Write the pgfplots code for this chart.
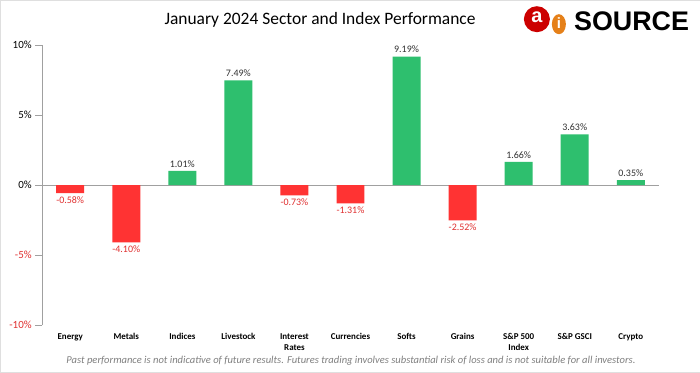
\documentclass[border=0pt]{standalone}
\usepackage{pgfplots}
\pgfplotsset{compat=1.18}
\usepackage{fontspec}
\setmainfont{Carlito}
\newfontfamily\logofont{Liberation Sans}
\definecolor{barGreen}{HTML}{2EBF6E}
\definecolor{barRed}{HTML}{FF3333}
\definecolor{labRed}{HTML}{E03030}
\definecolor{axisGray}{HTML}{A0A0A0}
\begin{document}
\begin{tikzpicture}
\path[draw=gray!25, fill=white] (0bp,0bp) rectangle (700bp,372bp);
\node[font=\fontsize{17.5}{20}\selectfont] at (320bp,352bp) {January 2024 Sector and Index Performance};
\node[font=\fontsize{10.6}{12}\selectfont\itshape, text=gray] at (351bp,11bp) {Past performance is not indicative of future results. Futures trading involves substantial risk of loss and is not suitable for all investors.};
% logo
\fill[red!80!black] (537bp,353bp) circle (13bp);
\node[font=\logofont\bfseries\fontsize{20}{20}\selectfont, text=white] at (537bp,355bp) {a};
\fill[orange!60!brown] (559bp,348bp) ellipse (7bp and 10bp);
\node[font=\logofont\bfseries\fontsize{15}{15}\selectfont, text=white] at (559bp,349bp) {i};
\node[font=\logofont\bfseries\fontsize{27}{27}\selectfont, anchor=west, inner sep=0pt] at (574bp,351bp) {SOURCE};
\begin{axis}[at={(42bp,47bp)}, anchor=south west, scale only axis,
  width=617bp, height=280bp,
  xmin=-0.5, xmax=10.5, ymin=-10, ymax=10,
  axis x line*=bottom, axis y line*=left,
  x axis line style={draw=none}, y axis line style={draw=axisGray},
  xtick={0,...,10}, xtick style={draw=none},
  xticklabels={Energy,Metals,Indices,Livestock,{Interest\\Rates},Currencies,Softs,Grains,{S\&P 500\\Index},S\&P GSCI,Crypto},
  xticklabel style={font=\fontsize{9}{11}\selectfont\bfseries, align=center, yshift=2bp},
  ytick={-10,-5,0,5,10},
  yticklabels={\textcolor{labRed}{-10\%},\textcolor{labRed}{-5\%},0\%,5\%,10\%},
  yticklabel style={font=\fontsize{11}{13}\selectfont},
  tick align=outside, major tick length=7bp, ytick style={draw=axisGray},
  ybar, bar width=28bp, bar shift=0pt,
  /pgf/number format/assume math mode=true,
  nodes near coords={\pgfmathprintnumber[fixed,precision=2,fixed zerofill,assume math mode=true]{\pgfplotspointmeta}\%},
  clip=false,
]
\draw[axisGray] (axis cs:-0.5,0) -- (axis cs:10.5,0);
\addplot[fill=barGreen, draw=none,
  every node near coord/.append style={font=\fontsize{10}{12}\selectfont, text=black!80, anchor=south}]
  coordinates {(2,1.01) (3,7.49) (6,9.19) (8,1.66) (9,3.63) (10,0.35)};
\addplot[fill=barRed, draw=none,
  every node near coord/.append style={font=\fontsize{10}{12}\selectfont, text=labRed, anchor=north}]
  coordinates {(0,-0.58) (1,-4.10) (4,-0.73) (5,-1.31) (7,-2.52)};
\end{axis}
\end{tikzpicture}
\end{document}
